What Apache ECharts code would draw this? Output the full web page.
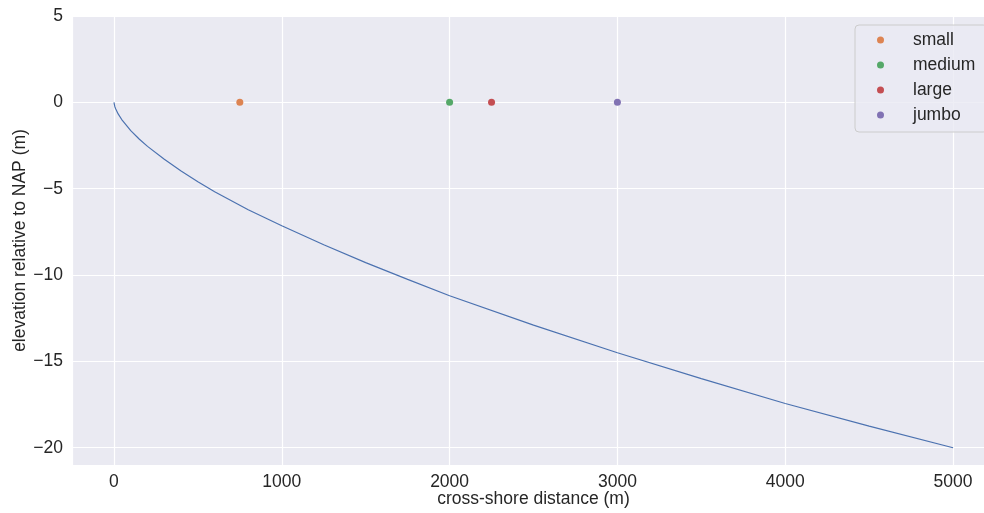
<!DOCTYPE html>
<html>
<head>
<meta charset="utf-8">
<script src="https://cdn.jsdelivr.net/npm/echarts@6/dist/echarts.min.js"></script>
<style>html,body{margin:0;padding:0;background:#fff;}#c{width:984px;height:513px;}</style>
</head>
<body>
<div id="c"></div>
<script>
// Profile: cross-shore distance (m) and elevation (m)
const profileX = [0, 5, 10, 25, 50, 100, 150, 200, 300, 400, 500, 600, 800, 1000, 1250, 1500, 1750, 2000, 2500, 3000, 3500, 4000, 4500, 5000];
const profileY = [0, -0.24, -0.37, -0.67, -1.05, -1.64, -2.12, -2.55, -3.30, -3.98, -4.60, -5.18, -6.22, -7.15, -8.25, -9.28, -10.25, -11.2, -12.9, -14.5, -16.0, -17.44, -18.75, -20.0];
// Ship/point categories
const pointNames = ['small', 'medium', 'large', 'jumbo'];
const pointX = [750, 2000, 2250, 3000];
const pointY = [0, 0, 0, 0];
const pointColors = ['#dd8452', '#55a868', '#c44e52', '#8172b3'];

const FONT = '"Liberation Sans", Arial, "DejaVu Sans", sans-serif';
const TXT = '#262626';
const FS = 17.5;

const chart = echarts.init(document.getElementById('c'), null, {renderer: 'canvas'});
const series = [{
  type: 'line',
  data: profileX.map((x, i) => [x, profileY[i]]),
  showSymbol: false,
  lineStyle: {color: '#4c72b0', width: 1.2},
  itemStyle: {color: '#4c72b0'},
  silent: true,
  z: 2
}];
pointNames.forEach((n, i) => {
  series.push({
    name: n,
    type: 'scatter',
    data: [[pointX[i], pointY[i]]],
    symbolSize: 7,
    itemStyle: {color: pointColors[i], opacity: 1},
    z: 3
  });
});

chart.setOption({
  animation: false,
  backgroundColor: '#ffffff',
  grid: {left: 72, top: 16, right: -11, bottom: 48, show: true, backgroundColor: '#eaeaf2', borderWidth: 0,
    containLabel: false, outerBoundsMode: 'none'},
  xAxis: {
    type: 'value', min: -250, max: 5250, splitNumber: 5,
    name: 'cross-shore distance (m)', nameLocation: 'middle', nameGap: 25, nameMoveOverlap: false,
    nameTextStyle: {fontFamily: FONT, fontSize: FS, color: TXT, verticalAlign: 'top'},
    axisLine: {show: false}, axisTick: {show: false},
    axisLabel: {fontFamily: FONT, fontSize: FS, color: TXT, margin: 8, showMinLabel: false, showMaxLabel: false,
      formatter: v => (v % 1000 === 0 ? String(v) : '')},
    splitLine: {show: true, lineStyle: {color: '#ffffff', width: 1.2}}
  },
  yAxis: {
    type: 'value', min: -21, max: 5, splitNumber: 5,
    name: 'elevation relative to NAP (m)', nameLocation: 'middle', nameGap: 43, nameMoveOverlap: false,
    nameTextStyle: {fontFamily: FONT, fontSize: FS, color: TXT},
    axisLine: {show: false}, axisTick: {show: false},
    axisLabel: {fontFamily: FONT, fontSize: FS, color: TXT, margin: 9, showMinLabel: false,
      formatter: v => (v % 5 === 0 ? String(v).replace('-', '\u2212') : '')},
    splitLine: {show: true, lineStyle: {color: '#ffffff', width: 1.2}}
  },
  legend: {
    data: pointNames, orient: 'vertical', left: 855, top: 25,
    icon: 'circle', itemWidth: 7, itemHeight: 7, itemGap: 7,
    padding: [6, 12, 8, 22],
    backgroundColor: 'rgba(234,234,242,0.8)', borderColor: '#cccccc', borderWidth: 1, borderRadius: 4,
    textStyle: {fontFamily: FONT, fontSize: FS, color: TXT, lineHeight: 18, padding: [0, 0, 0, 24]}
  },
  series: series
});
</script>
</body>
</html>
